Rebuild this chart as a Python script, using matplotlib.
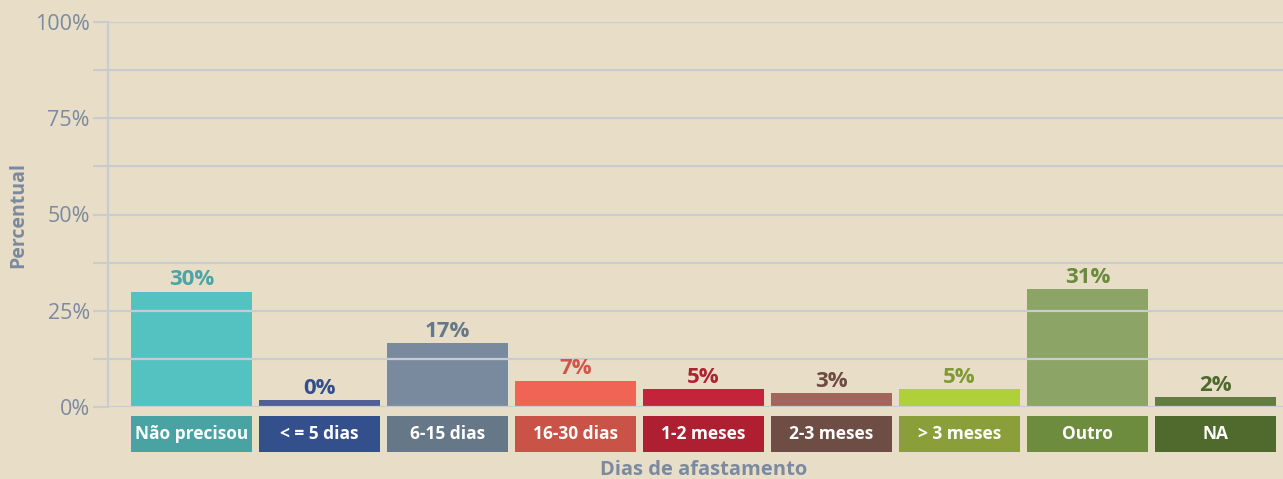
import matplotlib
matplotlib.use("Agg")
import matplotlib.pyplot as plt
import matplotlib.transforms as mtransforms
from matplotlib.patches import Rectangle
from matplotlib.ticker import MultipleLocator, FuncFormatter

# data
categories = ["Não precisou", "< = 5 dias", "6-15 dias", "16-30 dias", "1-2 meses",
              "2-3 meses", "> 3 meses", "Outro", "NA"]
values = [29.9, 1.8, 16.6, 6.8, 4.7, 3.6, 4.7, 30.6, 2.6]
value_labels = ["30%", "0%", "17%", "7%", "5%", "3%", "5%", "31%", "2%"]

bar_colors = ["#55c2c2", "#525f97", "#7a8a9e", "#f06455", "#c3243a",
              "#a0665c", "#b0d03a", "#8ca466", "#637c42"]
box_colors = ["#4aa3a3", "#34508c", "#667788", "#c85346", "#ae1f31",
              "#6e4d45", "#8a9e3a", "#6e8c3e", "#4f6a2c"]
label_colors = ["#4aa6a6", "#344f8c", "#66778a", "#d0564a", "#b02232",
                "#6e4c44", "#7f9a34", "#6a8a3c", "#4e6a2c"]

BG = "#e8dec8"
GRID = "#c8ccce"
AXIS_TEXT = "#7b8aa0"

plt.rcParams["font.family"] = ["Open Sans", "DejaVu Sans"]

fig = plt.figure(figsize=(12.83, 4.79), dpi=100, facecolor=BG)
ax = fig.add_axes([108 / 1283, 72 / 479, 1175 / 1283, 385 / 479])
ax.set_facecolor(BG)

x = list(range(len(categories)))
width = 121 / 128

ax.set_xlim(-0.652, 8.527)
ax.set_ylim(0, 100)

# grid every 12.5%, labels every 25%
ax.yaxis.set_major_locator(MultipleLocator(25))
ax.yaxis.set_minor_locator(MultipleLocator(12.5))
ax.yaxis.set_major_formatter(FuncFormatter(lambda v, _: f"{v:.0f}%"))
ax.tick_params(axis="y", which="both", length=11, width=1.6, color=GRID,
               labelsize=15.5, labelcolor=AXIS_TEXT, pad=2)
ax.tick_params(axis="x", length=0, labelbottom=False)

for side in ["top", "right", "bottom"]:
    ax.spines[side].set_visible(False)
ax.spines["left"].set_color(GRID)
ax.spines["left"].set_linewidth(1.6)

ax.bar(x, values, width=width, color=bar_colors, linewidth=0, zorder=1)

# grid lines over the bars, like the reference
for yv in [12.5 * i for i in range(9)]:
    ax.axhline(yv, color=GRID, linewidth=1.6, zorder=2)

for xi, v, lab, c in zip(x, values, value_labels, label_colors):
    ax.annotate(lab, (xi, v), xytext=(0, 1), textcoords="offset points",
                ha="center", va="bottom", fontsize=16, fontweight="bold", color=c)

# category boxes under the axis
trans = mtransforms.blended_transform_factory(ax.transData, ax.transAxes)
box_top = (407 - 416) / 385
box_bot = (407 - 452) / 385
for xi, cat, c in zip(x, categories, box_colors):
    ax.add_patch(Rectangle((xi - width / 2, box_bot), width, box_top - box_bot,
                           transform=trans, facecolor=c, linewidth=0,
                           clip_on=False, zorder=3))
    ax.text(xi, (box_top + box_bot) / 2, cat, transform=trans, ha="center",
            va="center", fontsize=12.5, fontweight="bold", color="white", zorder=4)

ax.set_xlabel("Dias de afastamento", fontsize=14.5, fontweight="bold", color=AXIS_TEXT)
ax.xaxis.set_label_coords((704 - 108) / 1175, (407 - 460) / 385)
ax.set_ylabel("Percentual", fontsize=14, fontweight="bold", color=AXIS_TEXT)
ax.yaxis.set_label_coords((28 - 108) / 1175, 0.5)

fig.savefig("out.png", dpi=100, facecolor=BG)
